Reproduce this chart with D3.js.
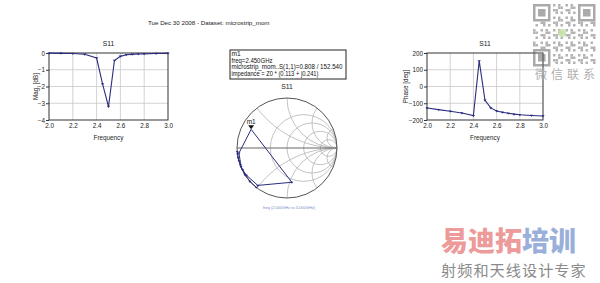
<!DOCTYPE html>
<html><head><meta charset="utf-8">
<script src="https://cdn.jsdelivr.net/npm/d3@7"></script>
<style>body{margin:0;background:#fff;} svg{display:block;font-family:"Liberation Sans",Arial,sans-serif;}</style>
</head><body><svg id="c" width="600" height="283"></svg>
<script>
// ---- data ----
const freqs    = [2.0, 2.1, 2.2, 2.3, 2.4, 2.45, 2.5, 2.55, 2.6, 2.65, 2.7, 2.75, 2.8, 2.9, 3.0];
const magDb    = [-0.01, -0.02, -0.03, -0.07, -0.3, -1.85, -3.2, -0.45, -0.2, -0.1, -0.08, -0.06, -0.05, -0.03, -0.02];
const phaseDeg = [-128, -138, -148, -158, -174, 152.54, -82, -128, -146, -154, -160, -165, -169, -173, -176];
const freqTicks  = [2.0, 2.2, 2.4, 2.6, 2.8, 3.0];
const magTicks   = [0, -1, -2, -3, -4];
const phaseTicks = [200, 100, 0, -100, -200];
const smithR = [0.5, 1, 2, 5];
const smithX = [0.5, 1, 2, 5];
const markerFreq = 2.45;
const markerLines = ["m1", "freq=2.450GHz", "microstrip_mom..S(1,1)=0.808 / 152.540", "impedance = Z0 * (0.113 + j0.241)"];
const titleText = "Tue Dec 30 2008 - Dataset: microstrip_mom";

const svg = d3.select("#c");
const navy = "#2b2d7f";

svg.append("text").attr("x", 148).attr("y", 25).attr("font-size", 6.2).attr("fill", "#222").text(titleText);

function tri(g, x, y, s, color) {
  g.append("path").attr("d", `M${x - s},${y - s * 1.4}L${x + s},${y - s * 1.4}L${x},${y}Z`).attr("fill", color);
}

function linePlot(o) {
  const g = svg.append("g");
  const x = d3.scaleLinear().domain([2, 3]).range([o.x0, o.x1]);
  const y = d3.scaleLinear().domain(o.ydomain).range([o.y1, o.y0]);
  g.selectAll(".vg").data(freqTicks.slice(1, -1)).join("line")
    .attr("x1", d => x(d)).attr("x2", d => x(d)).attr("y1", o.y0).attr("y2", o.y1)
    .attr("stroke", "#c8c8c8").attr("stroke-width", 0.8);
  g.selectAll(".hg").data(o.yticks.slice(1, -1)).join("line")
    .attr("y1", d => y(d)).attr("y2", d => y(d)).attr("x1", o.x0).attr("x2", o.x1)
    .attr("stroke", "#c8c8c8").attr("stroke-width", 0.8);
  const ax = g.append("g").attr("transform", `translate(0,${o.y1})`)
    .call(d3.axisBottom(x).tickValues(freqTicks).tickFormat(d3.format(".1f")).tickSize(0).tickPadding(4));
  const ay = g.append("g").attr("transform", `translate(${o.x0},0)`)
    .call(d3.axisLeft(y).tickValues(o.yticks).tickFormat(d3.format("d")).tickSize(3).tickPadding(1));
  [ax, ay].forEach(a => {
    a.select(".domain").remove();
    a.selectAll("text").attr("font-size", 6.3).attr("fill", "#222").attr("font-family", "Liberation Sans, Arial, sans-serif");
    a.selectAll("line").attr("stroke", "#333");
  });
  g.append("rect").attr("x", o.x0).attr("y", o.y0).attr("width", o.x1 - o.x0).attr("height", o.y1 - o.y0)
    .attr("fill", "none").attr("stroke", "#333").attr("stroke-width", 1);
  const pts = freqs.map((f, i) => [f, o.values[i]]);
  g.append("path").datum(pts).attr("fill", "none").attr("stroke", navy).attr("stroke-width", 1.1)
    .attr("d", d3.line().x(d => x(d[0])).y(d => y(d[1])));
  pts.forEach(d => tri(g, x(d[0]), y(d[1]) + 1.5, 1.6, navy));
  g.append("text").attr("x", (o.x0 + o.x1) / 2).attr("y", o.y0 - 7).attr("text-anchor", "middle")
    .attr("font-size", 6.8).attr("fill", "#222").text("S11");
  g.append("text").attr("x", (o.x0 + o.x1) / 2).attr("y", o.y1 + 20).attr("text-anchor", "middle")
    .attr("font-size", 6.3).attr("fill", "#222").text("Frequency");
  g.append("text").attr("transform", `translate(${o.lx},${(o.y0 + o.y1) / 2}) rotate(-90)`).attr("text-anchor", "middle")
    .attr("font-size", 6.3).attr("fill", "#222").text(o.ylabel);
}

linePlot({x0: 49, x1: 168, y0: 53, y1: 120, ydomain: [-4, 0], yticks: magTicks, values: magDb, ylabel: "Mag. [dB]", lx: 38});
linePlot({x0: 427, x1: 543, y0: 53, y1: 120, ydomain: [-200, 200], yticks: phaseTicks, values: phaseDeg, ylabel: "Phase [deg]", lx: 408});

// ---- Smith chart ----
const cx = 287, cy = 148, R = 50;
const sx = d3.scaleLinear().domain([-1, 1]).range([cx - R, cx + R]);
const sy = d3.scaleLinear().domain([-1, 1]).range([cy + R, cy - R]);
const sg = svg.append("g");
svg.append("defs").append("clipPath").attr("id", "uc").append("circle").attr("cx", cx).attr("cy", cy).attr("r", R);
const grid = sg.append("g").attr("clip-path", "url(#uc)").attr("fill", "none").attr("stroke", "#b4b4b4").attr("stroke-width", 0.8);
smithR.forEach(r => grid.append("circle").attr("cx", sx(r / (r + 1))).attr("cy", sy(0)).attr("r", sx(1 / (r + 1)) - sx(0)));
smithX.forEach(xv => [1, -1].forEach(s =>
  grid.append("circle").attr("cx", sx(1)).attr("cy", sy(s / xv)).attr("r", sx(1 / xv) - sx(0))));
sg.append("circle").attr("cx", cx).attr("cy", cy).attr("r", R).attr("fill", "none").attr("stroke", "#555").attr("stroke-width", 1);
sg.append("line").attr("x1", sx(-1)).attr("x2", sx(1)).attr("y1", sy(0)).attr("y2", sy(0)).attr("stroke", "#666").attr("stroke-width", 1.2);
const gam = freqs.map((f, i) => {
  const m = Math.pow(10, magDb[i] / 20), a = phaseDeg[i] * Math.PI / 180;
  return [m * Math.cos(a), m * Math.sin(a), f];
});
sg.append("path").datum(gam).attr("fill", "none").attr("stroke", navy).attr("stroke-width", 1)
  .attr("d", d3.line().x(d => sx(d[0])).y(d => sy(d[1])));
gam.forEach(d => { if (d[2] !== markerFreq) tri(sg, sx(d[0]), sy(d[1]) + 1.5, 1.5, navy); });
const mk = gam.find(d => d[2] === markerFreq);
tri(sg, sx(mk[0]), sy(mk[1]), 3, "#111");
sg.append("text").attr("x", sx(mk[0])).attr("y", sy(mk[1]) - 5.5).attr("text-anchor", "middle").attr("font-size", 6.5).attr("fill", "#111").text("m1");
sg.append("text").attr("x", cx).attr("y", 89).attr("text-anchor", "middle").attr("font-size", 6.8).attr("fill", "#222").text("S11");
sg.append("text").attr("x", cx + 2).attr("y", 209).attr("text-anchor", "middle").attr("font-size", 4).attr("fill", "#7a8cc8").text("freq (2.000GHz to 3.000GHz)");

sg.append("rect").attr("x", 230).attr("y", 50).attr("width", 116).attr("height", 29).attr("fill", "#fff").attr("stroke", "#222").attr("stroke-width", 1);
const lens = [null, 41, 111, 87];
markerLines.forEach((t, i) => {
  const tx = sg.append("text").attr("x", 231.5).attr("y", 56 + i * 6.6).attr("font-size", 6.6).attr("fill", "#111").text(t);
  if (lens[i]) tx.attr("textLength", lens[i]).attr("lengthAdjust", "spacingAndGlyphs");
});

// ---- watermarks ----
const qr = svg.append("g").attr("opacity", 0.55);
const qx = 533, qy = 4, cell = 2.5, n = 25;
for (let i = 0; i < n; i++) for (let j = 0; j < n; j++) {
  const finder = (i < 7 && j < 7) || (i < 7 && j >= n - 7) || (i >= n - 7 && j < 7);
  if (finder) continue;
  if (((i * 31 + j * 17 + i * j * 7) % 5) < 2) qr.append("rect").attr("x", qx + j * cell).attr("y", qy + i * cell).attr("width", cell).attr("height", cell).attr("fill", "#777");
}
[[0, 0], [0, n - 7], [n - 7, 0]].forEach(([i, j]) => {
  qr.append("rect").attr("x", qx + j * cell + 1.25).attr("y", qy + i * cell + 1.25).attr("width", 7 * cell - 2.5).attr("height", 7 * cell - 2.5).attr("fill", "none").attr("stroke", "#666").attr("stroke-width", 2.5);
  qr.append("rect").attr("x", qx + (j + 2) * cell).attr("y", qy + (i + 2) * cell).attr("width", 3 * cell).attr("height", 3 * cell).attr("fill", "#666");
});
qr.append("circle").attr("cx", 562).attr("cy", 33).attr("r", 4).attr("fill", "#9c6").attr("opacity", 0.9);
svg.append("text").attr("x", 535).attr("y", 79).attr("font-size", 12).attr("letter-spacing", 4).attr("fill", "#b0b0b0")
  .attr("font-family", "Noto Sans CJK SC").text("微信联系");
const wm = svg.append("text").attr("x", 441).attr("y", 251).attr("font-size", 27).attr("font-weight", "900").attr("font-family", "Noto Sans CJK SC");
wm.append("tspan").attr("fill", "#ec9a9a").text("易迪拓");
wm.append("tspan").attr("fill", "#9ab0da").text("培训");
svg.append("text").attr("x", 441).attr("y", 275.5).attr("font-size", 15.2).attr("letter-spacing", 1).attr("fill", "#8a8a8a").attr("font-family", "Noto Sans CJK SC").text("射频和天线设计专家");
</script></body></html>
